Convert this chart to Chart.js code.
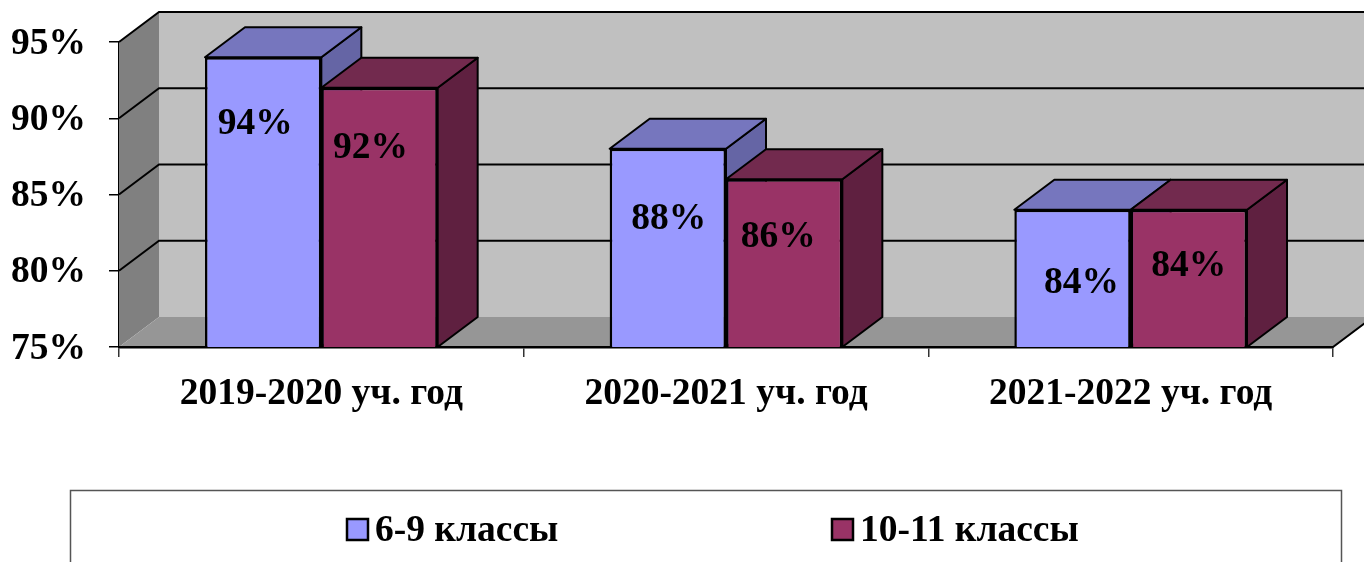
<!DOCTYPE html>
<html>
<head>
<meta charset="utf-8">
<style>
    html, body { margin: 0; padding: 0; background: #fff; overflow: hidden; }
    canvas { display: block; }
</style>
<script src="https://cdn.jsdelivr.net/npm/chart.js@4"></script>
</head>
<body>
<canvas id="chart" width="1364" height="562"></canvas>
<script>
const categories = ["2019-2020 уч. год", "2020-2021 уч. год", "2021-2022 уч. год"];
const seriesNames = ["6-9 классы", "10-11 классы"];
const juniorValues = [94, 88, 84];
const seniorValues = [92, 86, 84];

const fontName = "'Liberation Serif', 'Times New Roman', serif";
const bigFont = { family: fontName, size: 37.5, weight: "bold" };

// depth of the fake 3d box, pixels
const depthX = 40;
const depthY = -30;

const frontColors = ["#9999FF", "#993366"];
const topColors = ["#7676BE", "#722A4E"];
const sideColors = ["#6565A5", "#5F2040"];

// where the value labels sit, relative to the bar centre and bar top
const labelShift = [
    [{ x: -8, y: 67 }, { x: 1, y: 71 }, { x: 9, y: 74 }],
    [{ x: -9, y: 61 }, { x: -6, y: 58 }, { x: 0, y: 57 }]
];

function shape(ctx, pts, fill, stroke, width) {
    ctx.beginPath();
    pts.forEach((p, i) => {
        if (i == 0) ctx.moveTo(p[0], p[1]);
        else ctx.lineTo(p[0], p[1]);
    });
    ctx.closePath();
    ctx.fillStyle = fill;
    ctx.fill();
    if (stroke) {
        ctx.strokeStyle = stroke;
        ctx.lineWidth = width;
        ctx.lineJoin = "round";
        ctx.stroke();
    }
}

function line(ctx, pts, color, width) {
    ctx.beginPath();
    pts.forEach((p, i) => {
        if (i == 0) ctx.moveTo(p[0], p[1]);
        else ctx.lineTo(p[0], p[1]);
    });
    ctx.strokeStyle = color;
    ctx.lineWidth = width;
    ctx.stroke();
}

const boxPlugin = {
    id: "box3d",
    beforeDatasetsDraw(chart) {
        const ctx = chart.ctx;
        const area = chart.chartArea;
        const yScale = chart.scales.y;

        ctx.save();
        // back wall, left wall, floor
        shape(ctx, [[area.left + depthX, area.top + depthY], [chart.width + 20, area.top + depthY],
            [chart.width + 20, area.bottom + depthY], [area.left + depthX, area.bottom + depthY]], "#C0C0C0");
        shape(ctx, [[area.left, area.top], [area.left + depthX, area.top + depthY],
            [area.left + depthX, area.bottom + depthY], [area.left, area.bottom]], "#808080");
        shape(ctx, [[area.left, area.bottom], [area.right, area.bottom], [area.right + depthX, area.bottom + depthY],
            [area.left + depthX, area.bottom + depthY]], "#969696");

        // grid lines follow the y scale
        yScale.ticks.forEach(t => {
            const y = yScale.getPixelForValue(t.value);
            if (t.value == 75) {
                line(ctx, [[area.left, y], [area.right, y], [area.right + depthX, y + depthY]], "#000", 2);
                return;
            }
            line(ctx, [[area.left, y], [area.left + depthX, y + depthY], [chart.width + 20, y + depthY]], "#000", 2);
        });

        // side and top faces, the fronts are the real bars drawn after this
        chart.data.datasets.forEach((ds, i) => {
            chart.getDatasetMeta(i).data.forEach(bar => {
                const l = bar.x - bar.width / 2;
                const r = bar.x + bar.width / 2;
                const b = area.bottom;
                shape(ctx, [[r, bar.y], [r + depthX, bar.y + depthY], [r + depthX, b + depthY], [r, b]], sideColors[i], "#000", 2);
                shape(ctx, [[l, bar.y], [l + depthX, bar.y + depthY], [r + depthX, bar.y + depthY], [r, bar.y]], topColors[i], "#000", 2);
            });
        });
        ctx.restore();
    },
    afterDatasetsDraw(chart) {
        const ctx = chart.ctx;
        ctx.save();
        ctx.font = "bold 37.5px " + fontName;
        ctx.fillStyle = "#000";
        ctx.textAlign = "center";
        ctx.textBaseline = "middle";
        chart.data.datasets.forEach((ds, i) => {
            chart.getDatasetMeta(i).data.forEach((bar, j) => {
                const shift = labelShift[i][j];
                ctx.fillText(ds.data[j] + "%", bar.x + shift.x, bar.y + shift.y);
            });
        });

        // legend frame runs off the bottom of the picture
        line(ctx, [[70.5, 562], [70.5, 490.5], [1341.5, 490.5], [1341.5, 562]], "#555", 1.5);
        const legendX = [347, 832];
        chart.data.datasets.forEach((ds, i) => {
            ctx.fillStyle = frontColors[i];
            ctx.strokeStyle = "#000";
            ctx.lineWidth = 2.5;
            ctx.fillRect(legendX[i], 519, 21, 21);
            ctx.strokeRect(legendX[i], 519, 21, 21);
            ctx.fillStyle = "#000";
            ctx.textAlign = "left";
            ctx.fillText(ds.label, legendX[i] + 28, 531);
        });
        ctx.restore();
    }
};

new Chart(document.getElementById("chart").getContext("2d"), {
    type: "bar",
    data: {
        labels: categories,
        datasets: [
            { label: seriesNames[0], data: juniorValues, backgroundColor: frontColors[0], borderColor: "#000", borderWidth: 2.5 },
            { label: seriesNames[1], data: seniorValues, backgroundColor: frontColors[1], borderColor: "#000", borderWidth: 2.5 }
        ]
    },
    options: {
        responsive: false,
        animation: false,
        barPercentage: 1,
        categoryPercentage: 0.575,
        layout: { padding: { left: 0, right: 31, top: 42, bottom: 0 } },
        plugins: {
            legend: { display: false },
            title: { display: false },
            tooltip: { enabled: false }
        },
        scales: {
            x: {
                afterFit(scale) { scale.height = 215; },
                border: { color: "#000", width: 2.5 },
                grid: { drawOnChartArea: false, drawTicks: true, tickLength: 10, color: "#333", lineWidth: 1.5 },
                ticks: { color: "#000", font: bigFont, padding: 15, maxRotation: 0 }
            },
            y: {
                min: 75,
                max: 95,
                afterFit(scale) {
                    scale.width = 119;
                    // tick labels should not push the plot down
                    scale.paddingTop = 0;
                    scale.paddingBottom = 0;
                },
                border: { color: "#000", width: 2 },
                grid: { drawOnChartArea: false, drawTicks: true, tickLength: 10, color: "#000", lineWidth: 1.5 },
                ticks: {
                    stepSize: 5,
                    color: "#000",
                    font: bigFont,
                    padding: 23,
                    labelOffset: 2,
                    callback: v => v + "%"
                }
            }
        }
    },
    plugins: [boxPlugin]
});
</script>
</body>
</html>
